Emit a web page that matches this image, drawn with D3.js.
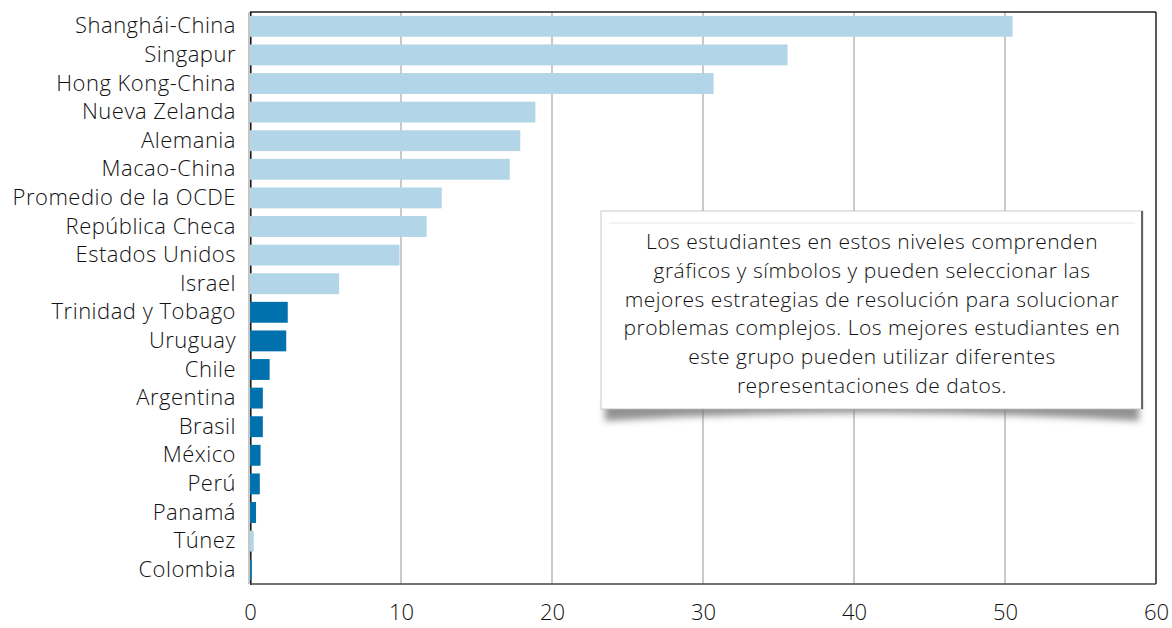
<!DOCTYPE html>
<html><head><meta charset="utf-8">
<script src="https://cdn.jsdelivr.net/npm/d3@7"></script>
<style>body{margin:0;background:#fff;} text{font-family:"Open Sans","Noto Sans",sans-serif;font-weight:300;}</style>
</head><body>
<svg id="c" width="1172" height="628"></svg>
<script>
const categories = ["Shanghái-China","Singapur","Hong Kong-China","Nueva Zelanda","Alemania","Macao-China","Promedio de la OCDE","República Checa","Estados Unidos","Israel","Trinidad y Tobago","Uruguay","Chile","Argentina","Brasil","México","Perú","Panamá","Túnez","Colombia"];
const values = [50.5,35.6,30.7,18.9,17.9,17.2,12.7,11.7,9.9,5.9,2.5,2.4,1.3,0.85,0.85,0.7,0.65,0.4,0.25,0.1];
const highlighted = [false,false,false,false,false,false,false,false,false,false,true,true,true,true,true,true,true,true,false,true];
const xTicks = [0,10,20,30,40,50,60];
const noteLines = ["Los estudiantes en estos niveles comprenden","gráficos y símbolos y pueden seleccionar las","mejores estrategias de resolución para solucionar","problemas complejos. Los mejores estudiantes en","este grupo pueden utilizar diferentes","representaciones de datos."];

const svg = d3.select("#c");
const L=250,R=1156,T=12,B=584;
const x = d3.scaleLinear().domain([0,60]).range([L,R]);
const y = d3.scaleBand().domain(categories).range([T,B]).paddingInner(0.27).paddingOuter(0.135);

// gridlines
svg.append("g").selectAll("line").data(xTicks.filter(d=>d>0&&d<60)).join("line")
  .attr("x1",d=>x(d)).attr("x2",d=>x(d)).attr("y1",T).attr("y2",B)
  .attr("stroke","#a6a6a6").attr("stroke-width",1.2);

// frame
svg.append("line").attr("x1",L).attr("x2",R).attr("y1",T).attr("y2",T).attr("stroke","#222").attr("stroke-width",1.5);
svg.append("line").attr("x1",R).attr("x2",R).attr("y1",T).attr("y2",B).attr("stroke","#222").attr("stroke-width",1.5);
svg.append("line").attr("x1",L-1).attr("x2",L-1).attr("y1",T).attr("y2",B).attr("stroke","#a0a0a0").attr("stroke-width",1.2);
svg.append("line").attr("x1",L+0.8).attr("x2",L+0.8).attr("y1",T).attr("y2",B+1).attr("stroke","#111").attr("stroke-width",1.5);
svg.append("line").attr("x1",L).attr("x2",R).attr("y1",B).attr("y2",B).attr("stroke","#444").attr("stroke-width",1.6);

// bars
svg.append("g").selectAll("rect").data(categories).join("rect")
  .attr("x",x(0)).attr("y",d=>y(d)).attr("height",y.bandwidth())
  .attr("width",(d,i)=>x(values[i])-x(0))
  .attr("fill",(d,i)=>highlighted[i]?"#0071ad":"#b3d5e8");

// y axis labels
const ya = d3.axisLeft(y).tickSize(0).tickPadding(14);
const gy = svg.append("g").attr("transform",`translate(${L},0)`).call(ya);
gy.select(".domain").remove();
gy.selectAll("text").attr("font-size",22).attr("fill","#111").attr("font-family","Open Sans").attr("font-weight",300).attr("letter-spacing",0.5);

// x axis labels
const xa = d3.axisBottom(x).tickValues(xTicks).tickSize(0).tickPadding(20);
const gx = svg.append("g").attr("transform",`translate(0,${B})`).call(xa);
gx.select(".domain").remove();
gx.selectAll("text").attr("font-size",22).attr("fill","#111").attr("font-family","Open Sans").attr("font-weight",300);

// annotation box
const bx=601,by=211,bw=542,bh=198;
const defs = svg.append("defs");
const f = defs.append("filter").attr("id","blur").attr("x","-10%").attr("y","-50%").attr("width","120%").attr("height","200%");
f.append("feGaussianBlur").attr("stdDeviation",3.5);
svg.append("path")
  .attr("d",`M${bx+4},${by+bh-6} L${bx+bw-4},${by+bh-6} L${bx+bw-4},${by+bh+12} Q${bx+bw/2},${by+bh-4} ${bx+4},${by+bh+12} Z`)
  .attr("fill","#777").attr("filter","url(#blur)").attr("opacity",0.8);
svg.append("rect").attr("x",bx).attr("y",by).attr("width",bw).attr("height",bh)
  .attr("fill","#fff").attr("stroke","#bbb").attr("stroke-width",0.8);
svg.append("line").attr("x1",bx+bw-1).attr("x2",bx+bw-1).attr("y1",by).attr("y2",by+bh).attr("stroke","#666").attr("stroke-width",2);
svg.append("line").attr("x1",bx+8).attr("x2",bx+bw-8).attr("y1",by+12).attr("y2",by+12).attr("stroke","#e6e6e6").attr("stroke-width",1);
svg.append("g").selectAll("text").data(noteLines).join("text")
  .attr("x",bx+bw/2).attr("y",(d,i)=>by+38+i*28.8).attr("text-anchor","middle")
  .attr("font-size",21).attr("fill","#111").attr("font-family","Open Sans").attr("font-weight",300).attr("letter-spacing",0.5).text(d=>d);
</script>
</body></html>
